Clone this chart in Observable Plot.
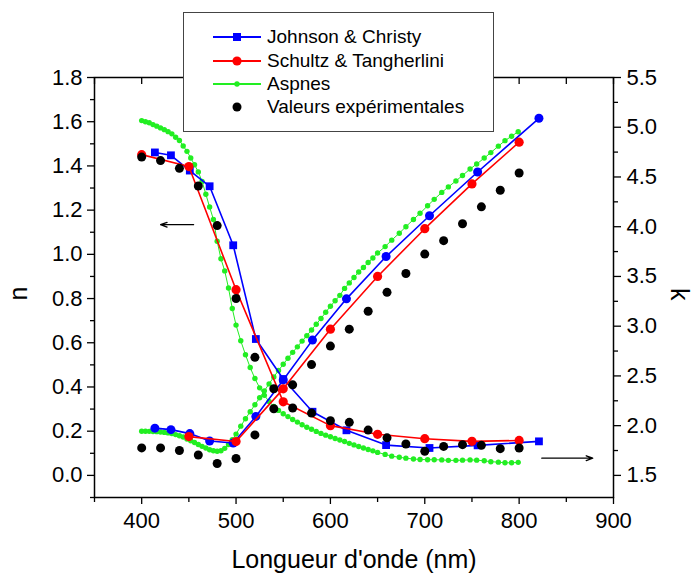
<!DOCTYPE html>
<html><head><meta charset="utf-8">
<script src="https://cdn.jsdelivr.net/npm/d3@7"></script>
<script src="https://cdn.jsdelivr.net/npm/@observablehq/plot@0.6"></script>
<style>
body{margin:0;background:#fff;font-family:"Liberation Sans",Arial,sans-serif}
#wrap{position:relative;width:693px;height:583px}
#legend{position:absolute;left:183px;top:12px;width:311px;height:120px;background:#fff;border:1px solid #444;box-sizing:border-box}
.row{position:absolute;left:28px;height:22px;display:flex;align-items:center;font-size:19px;color:#000;white-space:nowrap}
.row svg{margin-right:5px}
</style>
</head><body>
<div id="wrap"><div id="legend"></div></div>
<script>
// Johnson & Christy
const jcWl = [414, 431, 451, 472, 497, 521, 550, 581, 617, 659, 705, 756, 821];
const jcN  = [1.461, 1.448, 1.379, 1.308, 1.041, 0.617, 0.436, 0.288, 0.204, 0.137, 0.124, 0.136, 0.154];
const jcK  = [1.975, 1.96, 1.92, 1.846, 1.826, 2.093, 2.46, 2.86, 3.275, 3.70, 4.11, 4.55, 5.09];
// Schultz & Tangherlini
const stWlN = [400, 450, 500, 550, 600, 650, 700, 750, 800];
const stN   = [1.451, 1.397, 0.84, 0.333, 0.225, 0.186, 0.166, 0.154, 0.158];
const stWlK = [450, 500, 550, 600, 650, 700, 750, 800];
const stK   = [1.89, 1.84, 2.37, 2.97, 3.50, 3.98, 4.43, 4.85];
// Aspnes
const asWl = [400,404,408,412,416,420,424,428,432,436,440,444,448,452,456,460,464,468,472,476,480,484,488,492,496,500,
  505,510,515,520,525,530,535,540,545,550,555,560,565,570,575,580,585,590,595,600,605,610,615,620,625,630,635,640,645,650,
  658,665,673,680,688,695,703,710,718,725,733,740,748,755,763,770,778,785,792,799];
const asN = [1.605,1.60,1.595,1.587,1.58,1.572,1.564,1.555,1.545,1.53,1.515,1.49,1.466,1.436,1.405,1.373,1.33,1.272,1.214,1.158,1.059,0.98,0.925,0.848,0.755,0.68,
  0.609,0.546,0.488,0.438,0.396,0.362,0.334,0.312,0.294,0.279,0.266,0.253,0.241,0.229,0.218,0.209,0.199,0.19,0.182,0.175,0.167,0.16,0.153,0.145,0.138,0.131,0.124,0.117,0.111,0.104,
  0.095,0.087,0.082,0.078,0.074,0.072,0.071,0.071,0.07,0.068,0.068,0.069,0.07,0.069,0.066,0.062,0.06,0.057,0.057,0.059];
const asK = [1.944,1.944,1.943,1.942,1.94,1.936,1.932,1.927,1.921,1.91,1.898,1.886,1.866,1.848,1.83,1.81,1.792,1.775,1.758,1.748,1.742,1.748,1.772,1.81,1.858,1.915,
  1.995,2.07,2.14,2.21,2.28,2.35,2.42,2.49,2.555,2.617,2.678,2.737,2.792,2.85,2.905,2.962,3.02,3.077,3.14,3.20,3.255,3.31,3.38,3.435,3.49,3.545,3.59,3.64,3.685,3.735,
  3.80,3.865,3.935,4.0,4.073,4.135,4.21,4.275,4.345,4.40,4.46,4.515,4.58,4.63,4.69,4.745,4.81,4.865,4.91,4.955];
// Valeurs expérimentales
const exWl = [400,420,440,460,480,500,520,540,560,580,600,620,640,660,680,700,720,740,760,780,800];
const exN  = [1.44,1.424,1.389,1.309,1.13,0.80,0.534,0.392,0.305,0.282,0.247,0.24,0.205,0.17,0.142,0.109,0.131,0.139,0.136,0.121,0.124];
const exK  = [1.776,1.776,1.75,1.705,1.62,1.67,1.907,2.17,2.41,2.614,2.80,2.97,3.15,3.34,3.53,3.725,3.86,4.03,4.2,4.366,4.54];
// ticks
const xMajor = [400,500,600,700,800,900];
const xMinor = [350,450,550,650,750,850];
const xTop = [350,400,450,500,550,600,650,700,750,800,850,900];
const nMajor = [0,0.2,0.4,0.6,0.8,1.0,1.2,1.4,1.6,1.8];
const nMinor = [-0.1,0.1,0.3,0.5,0.7,0.9,1.1,1.3,1.5,1.7];
const kMajor = [1.5,2.0,2.5,3.0,3.5,4.0,4.5,5.0,5.5];
const kMinor = [1.75,2.25,2.75,3.25,3.75,4.25,4.75,5.25];
// arrows (annotation)
const arrowWl1 = [455, 420], arrowN1 = 1.134;
const arrowWl2 = [824, 878], arrowN2 = 0.078;

const names = ["Johnson & Christy","Schultz & Tangherlini","Aspnes","Valeurs expérimentales"];
const blue = "#0000ff", red = "#ff0000", green = "#22ee22", black = "#000000";

const toN = k => (k - 1.5) * 0.45;
const fromN = n => n / 0.45 + 1.5;

const jc = jcWl.map((w,i)=>({w, n: jcN[i], kn: toN(jcK[i])}));
const stn = stWlN.map((w,i)=>({w, n: stN[i]}));
const stk = stWlK.map((w,i)=>({w, kn: toN(stK[i])}));
const as = asWl.map((w,i)=>({w, n: asN[i], kn: toN(asK[i])}));
const ex = exWl.map((w,i)=>({w, n: exN[i], kn: toN(exK[i])}));
const arrows = [
  {x1: arrowWl1[0], x2: arrowWl1[1], y: arrowN1},
  {x1: arrowWl2[0], x2: arrowWl2[1], y: arrowN2}
];

const blank = () => "";
const chart = Plot.plot({
  width: 693, height: 583,
  marginLeft: 94, marginRight: 80, marginTop: 77, marginBottom: 86,
  style: {fontSize: "22px", fontFamily: "'Liberation Sans', Arial, sans-serif", background: "#fff", color: "#000"},
  x: {domain: [350, 900], label: null},
  y: {domain: [-0.1, 1.8], label: null},
  marks: [
    // green Aspnes
    Plot.line(as, {x: "w", y: "n", stroke: green, strokeWidth: 1}),
    Plot.line(as, {x: "w", y: "kn", stroke: green, strokeWidth: 1}),
    Plot.dot(as, {x: "w", y: "n", r: 2.7, fill: green, stroke: "none"}),
    Plot.dot(as, {x: "w", y: "kn", r: 2.7, fill: green, stroke: "none"}),
    // blue J&C
    Plot.line(jc, {x: "w", y: "n", stroke: blue, strokeWidth: 1.6}),
    Plot.line(jc, {x: "w", y: "kn", stroke: blue, strokeWidth: 1.6}),
    Plot.dot(jc, {x: "w", y: "n", symbol: "square", r: 4.4, fill: blue, stroke: "none"}),
    Plot.dot(jc, {x: "w", y: "kn", r: 4.5, fill: blue, stroke: "none"}),
    // red S&T
    Plot.line(stn, {x: "w", y: "n", stroke: red, strokeWidth: 1.6}),
    Plot.line(stk, {x: "w", y: "kn", stroke: red, strokeWidth: 1.6}),
    Plot.dot(stn, {x: "w", y: "n", r: 4.6, fill: red, stroke: "none"}),
    Plot.dot(stk, {x: "w", y: "kn", r: 4.6, fill: red, stroke: "none"}),
    // black experimental
    Plot.dot(ex, {x: "w", y: "n", r: 4.5, fill: black, stroke: "none"}),
    Plot.dot(ex, {x: "w", y: "kn", r: 4.5, fill: black, stroke: "none"}),
    // arrows
    Plot.arrow(arrows, {x1: "x1", x2: "x2", y1: "y", y2: "y", stroke: black, strokeWidth: 1.3, headLength: 8, headAngle: 40}),
    // frame and axes
    Plot.frame({stroke: black, strokeWidth: 1.5}),
    Plot.ruleX(xTop, {stroke: black, strokeWidth: 1.3, insetBottom: 413}),
    Plot.axisX(xMajor, {anchor: "bottom", tickSize: 7, tickPadding: 8, strokeWidth: 1.3, label: null, tickFormat: d => String(d)}),
    Plot.axisX(xMinor, {anchor: "bottom", tickSize: 5, strokeWidth: 1.3, label: null, tickFormat: blank}),
    Plot.axisY(nMajor, {anchor: "left", tickSize: 7, tickPadding: 5, strokeWidth: 1.3, label: null, tickFormat: d => d.toFixed(1)}),
    Plot.axisY(nMinor, {anchor: "left", tickSize: 4, strokeWidth: 1.3, label: null, tickFormat: blank}),
    Plot.axisY(kMajor.map(toN), {anchor: "right", tickSize: 7, tickPadding: 6, strokeWidth: 1.3, label: null, tickFormat: d => fromN(d).toFixed(1)}),
    Plot.axisY(kMinor.map(toN), {anchor: "right", tickSize: 4, strokeWidth: 1.3, label: null, tickFormat: blank}),
    // axis titles
    Plot.text(["Longueur d'onde (nm)"], {frameAnchor: "bottom", dy: 70, fontSize: 25, fill: black}),
    Plot.text(["n"], {frameAnchor: "left", dx: -76, dy: 13, rotate: -90, fontSize: 25, fill: black}),
    Plot.text(["k"], {frameAnchor: "right", dx: 65, dy: 13, rotate: 90, fontSize: 25, fill: black})
  ]
});
document.getElementById("wrap").prepend(chart);

// legend
const legend = document.getElementById("legend");
const rowTops = [13, 37, 60, 83];
const kinds = [
  {color: blue, line: true, shape: "square", size: 8},
  {color: red, line: true, shape: "circle", size: 4.6},
  {color: green, line: true, shape: "circle", size: 2.7},
  {color: black, line: false, shape: "circle", size: 4.5}
];
names.forEach((name, i) => {
  const k = kinds[i];
  const row = document.createElement("div");
  row.className = "row";
  row.style.top = rowTops[i] + "px";
  const ns = "http://www.w3.org/2000/svg";
  const svg = document.createElementNS(ns, "svg");
  svg.setAttribute("width", 50); svg.setAttribute("height", 22);
  if (k.line) {
    const l = document.createElementNS(ns, "line");
    l.setAttribute("x1", 1); l.setAttribute("x2", 49); l.setAttribute("y1", 11); l.setAttribute("y2", 11);
    l.setAttribute("stroke", k.color); l.setAttribute("stroke-width", 1.8);
    svg.appendChild(l);
  }
  if (k.shape === "square") {
    const r = document.createElementNS(ns, "rect");
    r.setAttribute("x", 25 - k.size/2); r.setAttribute("y", 11 - k.size/2);
    r.setAttribute("width", k.size); r.setAttribute("height", k.size); r.setAttribute("fill", k.color);
    svg.appendChild(r);
  } else {
    const c = document.createElementNS(ns, "circle");
    c.setAttribute("cx", 25); c.setAttribute("cy", 11); c.setAttribute("r", k.size); c.setAttribute("fill", k.color);
    svg.appendChild(c);
  }
  row.appendChild(svg);
  const t = document.createElement("span");
  t.textContent = name;
  row.appendChild(t);
  legend.appendChild(row);
});
</script>
</body></html>
